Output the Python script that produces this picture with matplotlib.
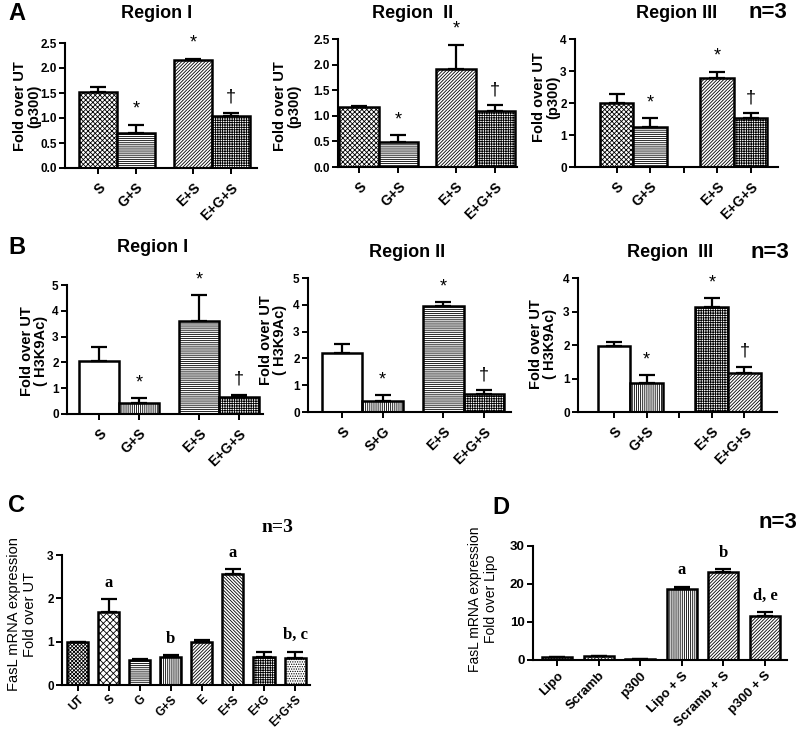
import numpy as np
import matplotlib
matplotlib.use("Agg")
import matplotlib.pyplot as plt

# ---- data ----
# A: p300 ChIP, fold over UT
a_labels = ["S", "G+S", "E+S", "E+G+S"]
a1_vals = [1.52, 0.70, 2.17, 1.04]
a1_err = [0.11, 0.17, 0.02, 0.07]
a2_vals = [1.18, 0.48, 1.92, 1.10]
a2_err = [0.02, 0.14, 0.47, 0.11]
a3_vals = [1.99, 1.26, 2.77, 1.52]
a3_err = [0.28, 0.26, 0.21, 0.16]
a_marks = ["", "*", "*", "\u2020"]

# B: H3K9Ac ChIP, fold over UT
b1_labels = ["S", "G+S", "E+S", "E+G+S"]
b2_labels = ["S", "S+G", "E+S", "E+G+S"]
b3_labels = ["S", "G+S", "E+S", "E+G+S"]
b1_vals = [2.07, 0.44, 3.60, 0.67]
b1_err = [0.51, 0.17, 1.00, 0.07]
b2_vals = [2.22, 0.41, 3.94, 0.69]
b2_err = [0.30, 0.21, 0.16, 0.12]
b3_vals = [1.97, 0.87, 3.12, 1.15]
b3_err = [0.13, 0.23, 0.28, 0.20]
b_marks = ["", "*", "*", "\u2020"]

# C: FasL mRNA, fold over UT
c_labels = ["UT", "S", "G", "G+S", "E", "E+S", "E+G", "E+G+S"]
c_vals = [1.00, 1.69, 0.58, 0.65, 1.00, 2.56, 0.64, 0.63]
c_err = [0.00, 0.29, 0.02, 0.04, 0.03, 0.12, 0.13, 0.14]
c_marks = ["", "a", "", "b", "", "a", "", "b, c"]

# D: FasL mRNA, fold over Lipo
d_labels = ["Lipo", "Scramb", "p300", "Lipo + S", "Scramb + S", "p300 + S"]
d_vals = [0.9, 1.05, 0.26, 18.7, 23.2, 11.6]
d_err = [0.0, 0.0, 0.0, 0.6, 0.7, 1.1]
d_marks = ["", "", "", "a", "b", "d, e"]

W, H = 800, 729
plt.rcParams['font.family'] = ['Liberation Sans', 'DejaVu Sans']
plt.rcParams['hatch.linewidth'] = 0.6
plt.rcParams['axes.linewidth'] = 1.5

fig = plt.figure(figsize=(8, 7.29), dpi=100)


def add_axes(l, r, t, b):
    return fig.add_axes([l / W, 1 - b / H, (r - l) / W, (b - t) / H])


def ftext(x, y, s, **kw):
    fig.text(x / W, 1 - y / H, s, **kw)


def bar_panel(ax, pos, vals, errs, labels, hatches, width, xlim, yticks, fmt,
              marks, pad=5, mfont=None, gap_ticks=(), xfs=10, yfs=8.5, xpad=5):
    ax.bar(pos, vals, width, color="white", edgecolor="black",
           hatch=hatches, linewidth=1.8, zorder=2)
    ax.errorbar(pos, vals, yerr=[np.zeros(len(vals)), errs], fmt="none",
                ecolor="black", elinewidth=1.6, capsize=6, capthick=1.6, zorder=3)
    for x, v, e, m in zip(pos, vals, errs, marks):
        if m:
            ax.annotate(m, (x, v + e), xytext=(0, pad), textcoords="offset points",
                        ha="center", va="bottom", annotation_clip=False,
                        **(mfont or {"fontsize": 13}))
    ax.set_xlim(*xlim)
    ax.set_ylim(yticks[0], yticks[-1])
    ax.set_yticks(yticks)
    ax.set_yticklabels([fmt.format(t) for t in yticks], fontweight="bold", fontsize=yfs)
    ax.set_xticks(pos)
    ax.set_xticklabels(labels, rotation=45, ha="right", rotation_mode="anchor",
                       fontweight="bold", fontsize=xfs)
    if gap_ticks:
        ax.set_xticks(gap_ticks, minor=True)
    ax.tick_params(which="both", direction="out", length=4, width=1.4, pad=2)
    ax.tick_params(axis="x", pad=xpad)
    for s in ("top", "right"):
        ax.spines[s].set_visible(False)


checker = "xxxxxxx"
horiz = "--------"
vert = "||||||||"
diag = "//////////"
grid = "+++++++"
a_hatch = [checker, horiz, diag, grid]
bold = dict(fontweight="bold")

# ---- panel A ----
ax = add_axes(65, 257, 43, 168)
bar_panel(ax, [0, 1, 2.5, 3.5], a1_vals, a1_err, a_labels, a_hatch, 1.0,
          (-0.87, 4.18), [0, 0.5, 1.0, 1.5, 2.0, 2.5], "{:.1f}", a_marks)
ax = add_axes(338, 517, 39, 167)
bar_panel(ax, [0, 1, 2.45, 3.45], a2_vals, a2_err, a_labels, a_hatch, 1.0,
          (-0.53, 4.0), [0, 0.5, 1.0, 1.5, 2.0, 2.5], "{:.1f}", a_marks)
ax = add_axes(575, 778, 39, 167)
bar_panel(ax, [0, 1, 3, 4], a3_vals, a3_err, a_labels, a_hatch, 1.0,
          (-1.24, 4.82), [0, 1, 2, 3, 4], "{:d}", a_marks, gap_ticks=[2])

ftext(8, 14, "A", fontsize=17, va="center", **bold)
ftext(157, 14, "Region I", fontsize=13, ha="center", va="center", **bold)
ftext(413, 14, "Region  II", fontsize=13, ha="center", va="center", **bold)
ftext(677, 14, "Region III", fontsize=13, ha="center", va="center", **bold)
ftext(748, 13, "n=3", fontsize=16, va="center", **bold)
for x, y in [(27, 106), (287, 106), (546, 97)]:
    ftext(x, y, "Fold over UT\n(p300)", fontsize=10.5, rotation=90, ha="center",
          va="center", multialignment="center", linespacing=1.0, **bold)

# ---- panel B ----
ax = add_axes(67, 263, 285, 414)
bar_panel(ax, [0, 1, 2.5, 3.5], b1_vals, b1_err, b1_labels,
          ["", vert, horiz, grid], 1.0, (-0.8, 4.1), [0, 1, 2, 3, 4, 5],
          "{:d}", b_marks)
ax = add_axes(308, 511, 278, 412)
bar_panel(ax, [0, 1, 2.5, 3.5], b2_vals, b2_err, b2_labels,
          ["", vert, horiz, grid], 1.0, (-0.84, 4.17), [0, 1, 2, 3, 4, 5],
          "{:d}", b_marks)
ax = add_axes(578, 777, 278, 412)
bar_panel(ax, [0, 1, 3, 4], b3_vals, b3_err, b3_labels,
          ["", vert, grid, diag], 1.0, (-1.1, 5.0), [0, 1, 2, 3, 4],
          "{:d}", b_marks, gap_ticks=[2])

ftext(8, 248, "B", fontsize=17, va="center", **bold)
ftext(153, 248, "Region I", fontsize=13, ha="center", va="center", **bold)
ftext(407, 253, "Region II", fontsize=13, ha="center", va="center", **bold)
ftext(670, 253, "Region  III", fontsize=13, ha="center", va="center", **bold)
ftext(750, 252, "n=3", fontsize=16, va="center", **bold)
for x, y in [(34, 351), (273, 340), (543, 344)]:
    ftext(x, y, "Fold over UT\n( H3K9Ac)", fontsize=10.5, rotation=90, ha="center",
          va="center", multialignment="center", linespacing=1.0, **bold)

# ---- panel C ----
serif = {"fontsize": 12, "family": "Liberation Serif", "fontweight": "bold"}
ax = add_axes(62, 310, 555, 685)
bar_panel(ax, np.arange(8), c_vals, c_err, c_labels,
          ["xxxxxxxxx", "xxxxx", horiz, vert, diag, "\\\\\\\\\\\\\\\\\\\\",
           grid, "......."],
          0.68, (-0.5, 7.48), [0, 1, 2, 3], "{:d}", c_marks, pad=6, mfont=serif,
          xfs=8.5, xpad=2)
ftext(8, 505, "C", fontsize=17, va="center", **bold)
ftext(277, 527, "n=3", fontsize=14, ha="center", va="center",
      family="Liberation Serif", fontweight="bold")
ftext(22, 614, "FasL mRNA expression\nFold over UT", fontsize=10.5, rotation=90,
      ha="center", va="center", multialignment="center", linespacing=1.15)

# ---- panel D ----
ax = add_axes(533, 787, 546, 660)
bar_panel(ax, np.arange(6), d_vals, d_err, d_labels,
          ["......", "xxxxx", diag, vert, diag, diag],
          0.72, (-0.58, 5.53), [0, 10, 20, 30], "{:d}", d_marks, pad=6, mfont=serif,
          xfs=9.5, yfs=9.5, xpad=3)
ftext(492, 507, "D", fontsize=17, va="center", **bold)
ftext(758, 522, "n=3", fontsize=16, va="center", **bold)
ftext(483, 599, "FasL mRNA expression\nFold over Lipo", fontsize=10, rotation=90,
      ha="center", va="center", multialignment="center", linespacing=1.15)

fig.savefig("out.png", dpi=100)
